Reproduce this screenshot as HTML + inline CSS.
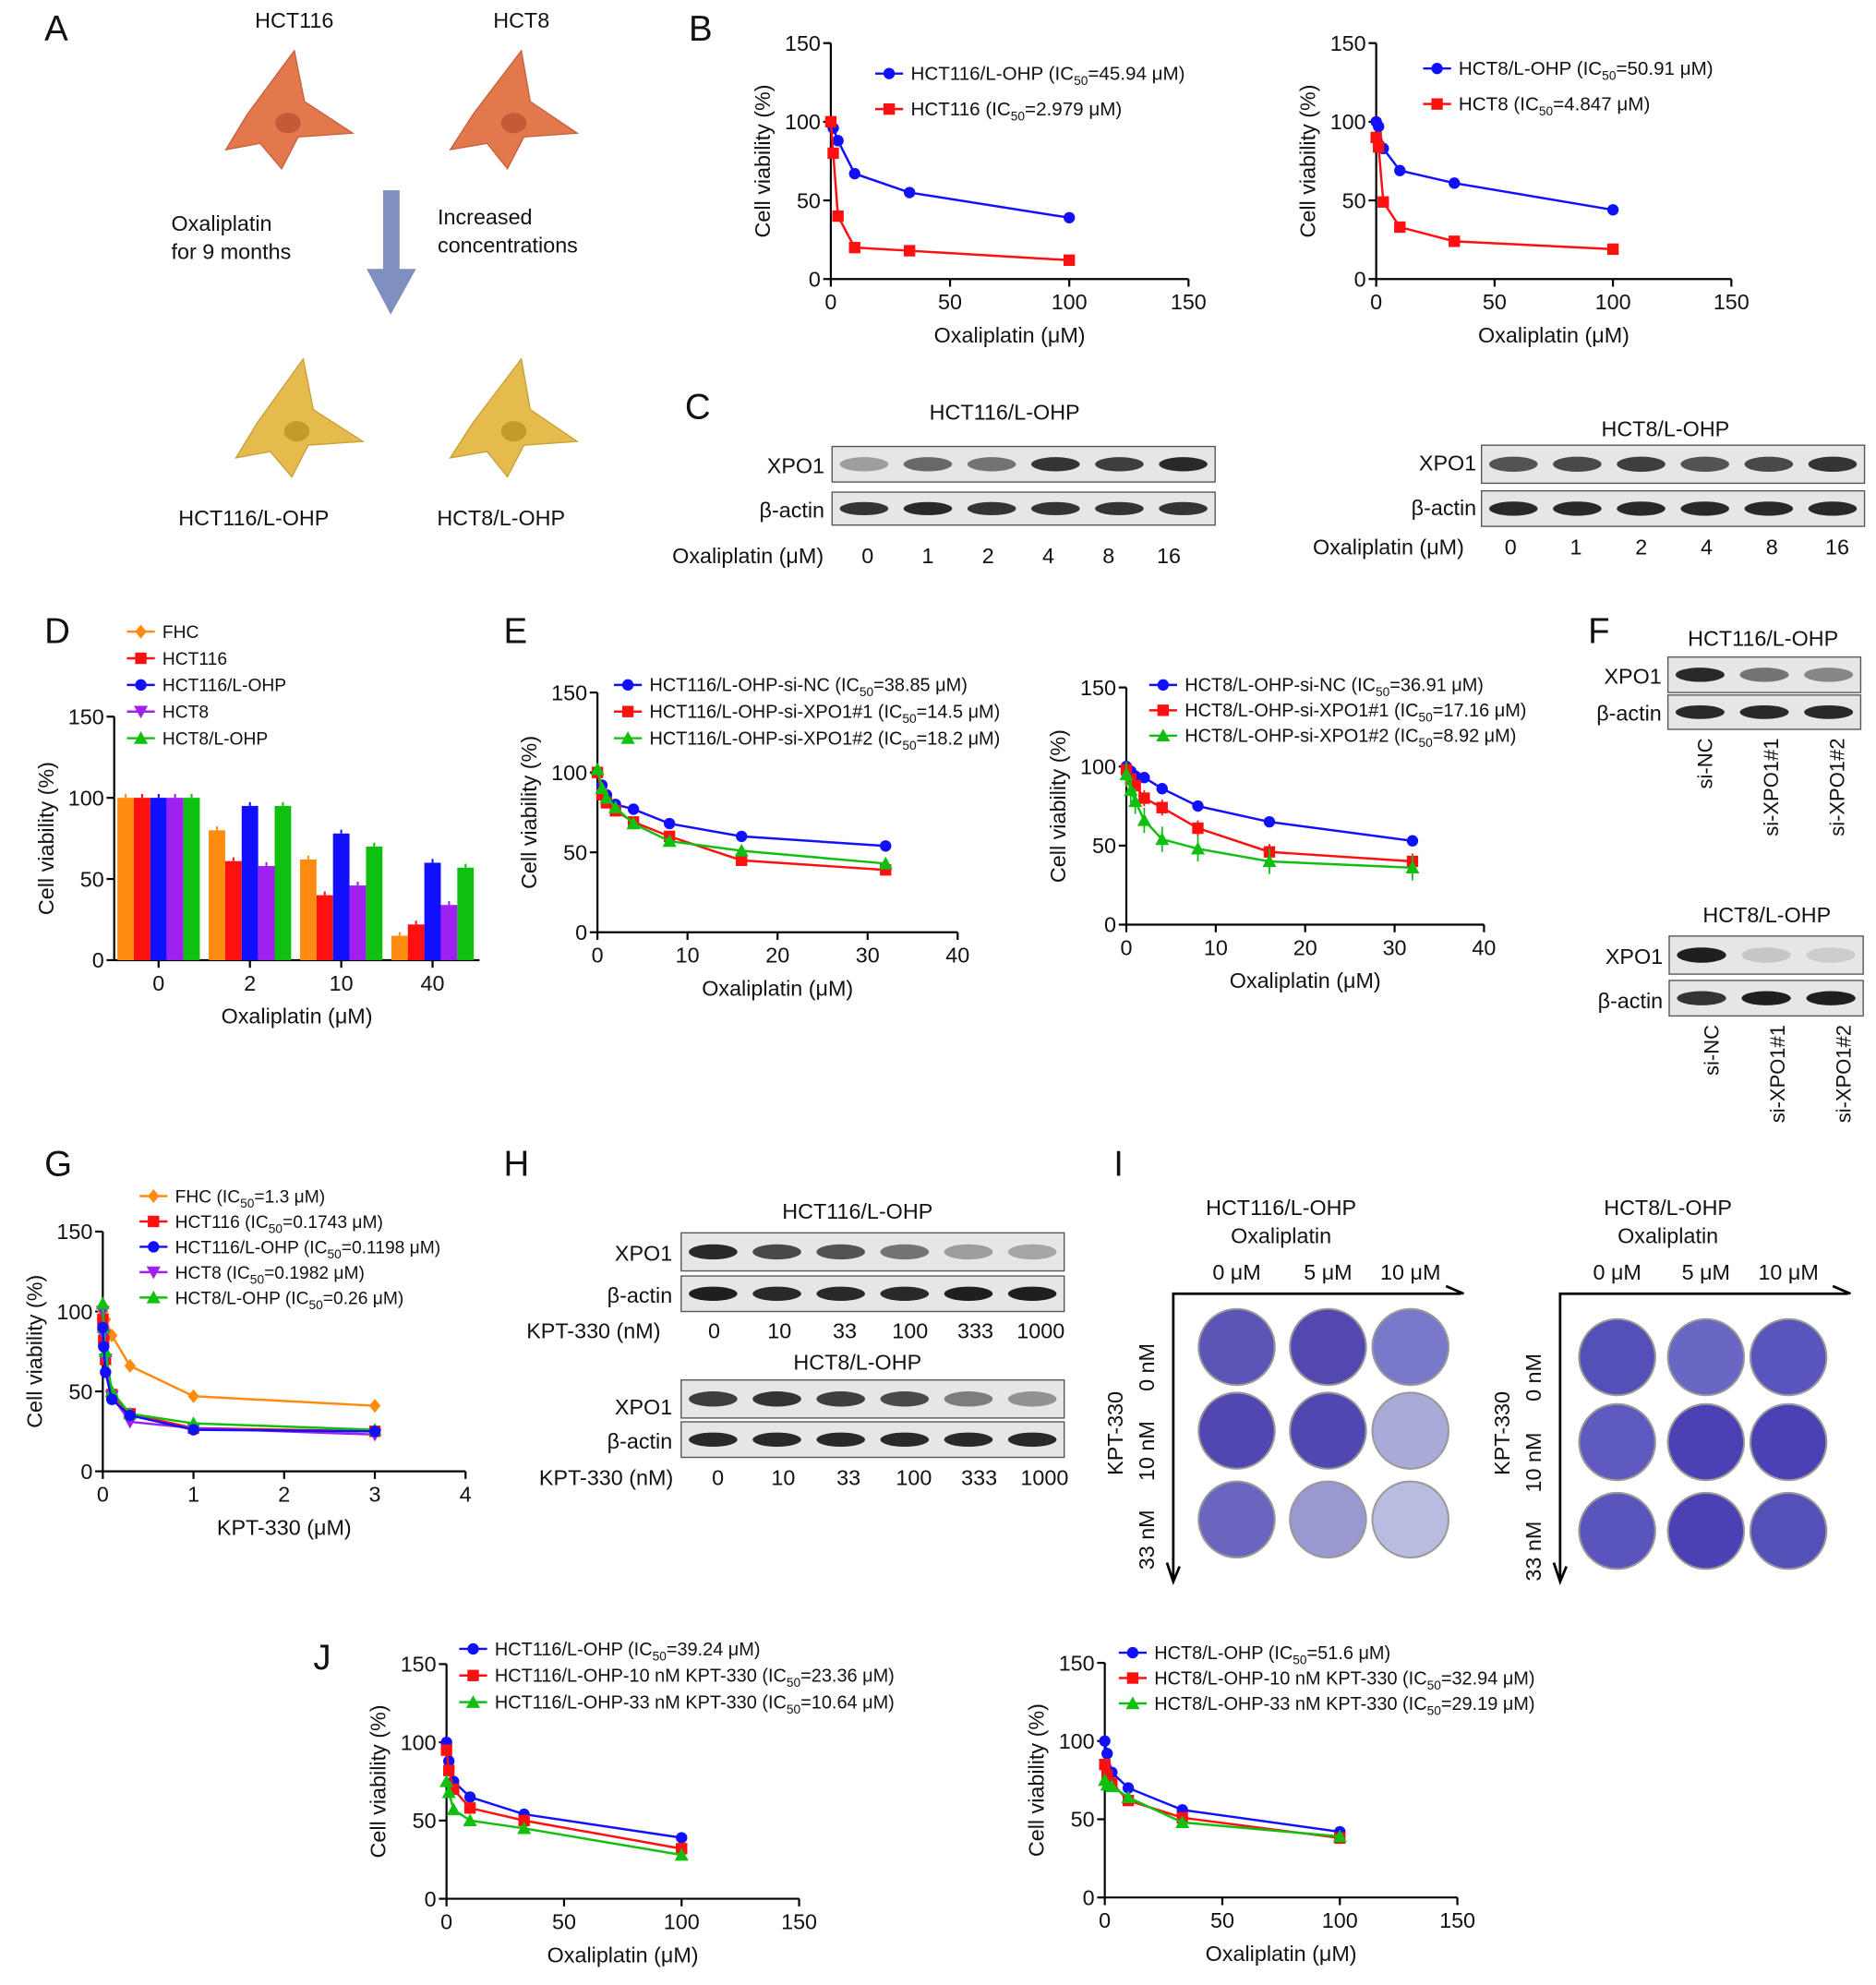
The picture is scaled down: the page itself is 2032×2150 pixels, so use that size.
<!DOCTYPE html>
<html><head><meta charset="utf-8"><style>
html,body{margin:0;padding:0;background:#fff}
svg{display:block}
text{font-family:"Liberation Sans",Arial,sans-serif;fill:#111}
</style></head><body>
<svg id="fig" xmlns="http://www.w3.org/2000/svg" width="2032" height="2150" viewBox="0 0 1479 1565">
<g id="static">
<!-- Panel letters -->
<text x="35" y="32" font-size="28">A</text>
<text x="543" y="32" font-size="28">B</text>
<text x="540" y="330" font-size="28">C</text>
<text x="35" y="507" font-size="28">D</text>
<text x="397" y="507" font-size="28">E</text>
<text x="1252" y="507" font-size="28">F</text>
<text x="35" y="927" font-size="28">G</text>
<text x="397" y="927" font-size="28">H</text>
<text x="878" y="927" font-size="28">I</text>
<text x="247" y="1316" font-size="28">J</text>
<!-- Panel A -->
<g font-size="17">
<text x="232" y="22" text-anchor="middle">HCT116</text>
<text x="411" y="22" text-anchor="middle">HCT8</text>
<path d="M232,40 L240,80 L278,105 L235,108 L222,133 L205,113 L178,118 L195,90 Z" fill="#e2784c" stroke="#c86040"/>
<ellipse cx="227" cy="97" rx="10" ry="8" fill="#c45a36"/>
<path d="M411,40 L418,80 L455,105 L413,108 L400,133 L384,113 L355,118 L373,90 Z" fill="#e2784c" stroke="#c86040"/>
<ellipse cx="405" cy="97" rx="10" ry="8" fill="#c45a36"/>
<text x="135" y="182">Oxaliplatin</text><text x="135" y="204">for 9 months</text>
<text x="345" y="177">Increased</text><text x="345" y="199">concentrations</text>
<rect x="302" y="150" width="13" height="65" fill="#7f8fbf"/>
<polygon points="289,212 328,212 308,248" fill="#7f8fbf"/>
<path d="M239,283 L247,323 L286,348 L243,351 L230,376 L213,356 L186,361 L203,333 Z" fill="#e4bb4c" stroke="#c9a038"/>
<ellipse cx="234" cy="340" rx="10" ry="8" fill="#c49a2a"/>
<path d="M411,283 L418,323 L455,348 L413,351 L400,376 L384,356 L355,361 L373,333 Z" fill="#e4bb4c" stroke="#c9a038"/>
<ellipse cx="405" cy="340" rx="10" ry="8" fill="#c49a2a"/>
<text x="200" y="414" text-anchor="middle">HCT116/L-OHP</text>
<text x="395" y="414" text-anchor="middle">HCT8/L-OHP</text>
</g>
</g>
<g id="dyn"></g>
</svg>
<script>
// ===== Data =====
const bX = [0, 1, 3, 10, 33, 100];
const bLeftBlue = [100, 96, 88, 67, 55, 39];
const bLeftRed = [100, 80, 40, 20, 18, 12];
const bRightBlue = [100, 97, 83, 69, 61, 44];
const bRightRed = [90, 84, 49, 33, 24, 19];
const dGroups = ["0", "2", "10", "40"];
const dFHC = [100, 80, 62, 15];
const dHCT116 = [100, 61, 40, 22];
const dHCT116L = [100, 95, 78, 60];
const dHCT8 = [100, 58, 46, 34];
const dHCT8L = [100, 95, 70, 57];
const eX = [0, 0.5, 1, 2, 4, 8, 16, 32];
const eLeftBlue = [100, 92, 86, 80, 77, 68, 60, 54];
const eLeftRed = [100, 86, 81, 76, 69, 60, 45, 39];
const eLeftGreen = [102, 90, 84, 78, 68, 57, 51, 43];
const eRightBlue = [100, 97, 94, 93, 86, 75, 65, 53];
const eRightRed = [98, 92, 88, 80, 74, 61, 46, 40];
const eRightGreen = [95, 85, 78, 66, 54, 48, 40, 36];
const gX = [0, 0.01, 0.03, 0.1, 0.3, 1, 3];
const gFHC = [100, 98, 95, 85, 66, 47, 41];
const gHCT116 = [95, 82, 70, 48, 36, 27, 25];
const gHCT116L = [90, 78, 62, 45, 35, 26, 25];
const gHCT8 = [100, 85, 70, 47, 31, 27, 23];
const gHCT8L = [105, 90, 75, 50, 36, 30, 26];
const jX = [0, 1, 3, 10, 33, 100];
const jLeftBlue = [100, 88, 75, 65, 54, 39];
const jLeftRed = [95, 82, 70, 58, 50, 32];
const jLeftGreen = [75, 68, 57, 50, 45, 28];
const jRightBlue = [100, 92, 80, 70, 56, 42];
const jRightRed = [85, 78, 73, 62, 51, 38];
const jRightGreen = [75, 72, 71, 64, 48, 39];
const yTicks150 = [0, 50, 100, 150];

const NS = "http://www.w3.org/2000/svg";
const root = document.getElementById("dyn");
function el(tag, attrs, parent, txt) {
  const e = document.createElementNS(NS, tag);
  for (const k in attrs) e.setAttribute(k, attrs[k]);
  if (txt !== undefined) e.textContent = txt;
  (parent || root).appendChild(e);
  return e;
}
const COL = {blue:"#1010ff", red:"#ff1010", green:"#10c010", orange:"#ff8c10", purple:"#a020f0"};
function marker(g, shape, cx, cy, c, s) {
  s = s || 4.5;
  let m;
  if (shape === "circle") m = el("circle", {cx, cy, r: s, fill: c}, g);
  else if (shape === "square") m = el("rect", {x: cx - s, y: cy - s, width: 2 * s, height: 2 * s, fill: c}, g);
  else if (shape === "tri") m = el("polygon", {points: `${cx},${cy - s - 1} ${cx + s + 1},${cy + s} ${cx - s - 1},${cy + s}`, fill: c}, g);
  else if (shape === "tridown") m = el("polygon", {points: `${cx},${cy + s + 1} ${cx + s + 1},${cy - s} ${cx - s - 1},${cy - s}`, fill: c}, g);
  else m = el("polygon", {points: `${cx},${cy - s - 1} ${cx + s},${cy} ${cx},${cy + s + 1} ${cx - s},${cy}`, fill: c}, g);
  return m;
}
function axes(name, x0, x1, y0, y1, xmax, xticks, ymax, yticks, xtitle, ytitle) {
  const g = el("g", {}); 
  
  
  const sx = v => x0 + (v / xmax) * (x1 - x0);
  const sy = v => y0 - (v / ymax) * (y0 - y1);
  el("line", {x1: x0, y1: y0, x2: x1, y2: y0, stroke: "#000", "stroke-width": 1.6}, g);
  el("line", {x1: x0, y1: y0, x2: x0, y2: y1, stroke: "#000", "stroke-width": 1.6}, g);
  if (xticks) xticks.forEach(t => {
    el("line", {x1: sx(t), y1: y0, x2: sx(t), y2: y0 + 6, stroke: "#000", "stroke-width": 1.6}, g);
    el("text", {x: sx(t), y: y0 + 24, "font-size": 17, "text-anchor": "middle"}, g, t);
  });
  yticks.forEach(t => {
    el("line", {x1: x0 - 6, y1: sy(t), x2: x0, y2: sy(t), stroke: "#000", "stroke-width": 1.6}, g);
    el("text", {x: x0 - 8, y: sy(t) + 6, "font-size": 17, "text-anchor": "end"}, g, t);
  });
  if (xtitle) el("text", {x: (x0 + x1) / 2, y: y0 + 50, "font-size": 17, "text-anchor": "middle"}, g, xtitle);
  const yt = el("text", {x: 0, y: 0, "font-size": 17, "text-anchor": "middle", transform: `translate(${x0 - 48},${(y0 + y1) / 2}) rotate(-90)`}, g, ytitle);
  return {sx, sy};
}
function series(name, ax, xs, ys, color, shape, err) {
  const g = el("g", {});
  
  
  const pts = xs.map((x, i) => `${ax.sx(x)},${ax.sy(ys[i])}`).join(" ");
  el("polyline", {points: pts, fill: "none", stroke: color, "stroke-width": 1.8}, g);
  xs.forEach((x, i) => {
    if (err) el("line", {x1: ax.sx(x), y1: ax.sy(ys[i] + err), x2: ax.sx(x), y2: ax.sy(ys[i] - err), stroke: color, "stroke-width": 1.3}, g);
    const m = marker(g, shape, ax.sx(x), ax.sy(ys[i]), color);
    
    
  });
}
function legend(name, x, y, dy, items, fs) {
  const g = el("g", {});
  
  
  items.forEach((it, i) => {
    const yy = y + i * dy;
    el("line", {x1: x, y1: yy, x2: x + 22, y2: yy, stroke: it[1], "stroke-width": 1.8}, g);
    marker(g, it[2], x + 11, yy, it[1]);
    const t = el("text", {x: x + 28, y: yy + 5, "font-size": fs || 15}, g);
    const parts = it[0].split("IC50");
    t.appendChild(document.createTextNode(parts[0]));
    if (parts.length > 1) {
      t.appendChild(document.createTextNode("IC"));
      const s = el("tspan", {"font-size": 10, dy: 4}, t, "50"); 
      const r = el("tspan", {dy: -4}, t, parts[1]);
    }
  });
}
// ===== Panel B =====
let ax = axes("b-left", 655, 937, 220, 34, 150, [0, 50, 100, 150], 150, yTicks150, "Oxaliplatin (μM)", "Cell viability (%)");
series("b-left-hct116-lohp", ax, bX, bLeftBlue, COL.blue, "circle");
series("b-left-hct116", ax, bX, bLeftRed, COL.red, "square");
legend("b-left-legend", 690, 58, 28, [["HCT116/L-OHP (IC50=45.94 μM)", COL.blue, "circle"], ["HCT116 (IC50=2.979 μM)", COL.red, "square"]]);
ax = axes("b-right", 1085, 1365, 220, 34, 150, [0, 50, 100, 150], 150, yTicks150, "Oxaliplatin (μM)", "Cell viability (%)");
series("b-right-hct8-lohp", ax, bX, bRightBlue, COL.blue, "circle");
series("b-right-hct8", ax, bX, bRightRed, COL.red, "square");
legend("b-right-legend", 1122, 54, 28, [["HCT8/L-OHP (IC50=50.91 μM)", COL.blue, "circle"], ["HCT8 (IC50=4.847 μM)", COL.red, "square"]]);
// ===== Panel D bars =====
(function () {
  ax = axes("d-bar", 90, 378, 757, 565, 1, null, 150, yTicks150, "Oxaliplatin (μM)", "Cell viability (%)");
  const sers = [dFHC, dHCT116, dHCT116L, dHCT8, dHCT8L];
  const cols = [COL.orange, COL.red, COL.blue, COL.purple, COL.green];
  const gw = 72, bw = 13;
  dGroups.forEach((lab, gi) => {
    const cx = 125 + gi * gw;
    el("line", {x1: cx, y1: 757, x2: cx, y2: 763, stroke: "#000", "stroke-width": 1.6});
    el("text", {x: cx, y: 781, "font-size": 17, "text-anchor": "middle"}, root, lab);
    sers.forEach((s, si) => {
      const x = cx - 2.5 * bw + si * bw;
      const r = el("rect", {x, y: ax.sy(s[gi]), width: bw, height: 757 - ax.sy(s[gi]), fill: cols[si]});
      
      
      el("line", {x1: x + bw / 2, y1: ax.sy(s[gi]) - 3, x2: x + bw / 2, y2: ax.sy(s[gi]), stroke: cols[si], "stroke-width": 1.5});
    });
  });
  legend("d-legend", 100, 498, 21, [["FHC", COL.orange, "diamond"], ["HCT116", COL.red, "square"], ["HCT116/L-OHP", COL.blue, "circle"], ["HCT8", COL.purple, "tridown"], ["HCT8/L-OHP", COL.green, "tri"]], 14);
})();
// ===== Panel E =====
ax = axes("e-left", 471, 755, 735, 546, 40, [0, 10, 20, 30, 40], 150, yTicks150, "Oxaliplatin (μM)", "Cell viability (%)");
series("e-left-si-nc", ax, eX, eLeftBlue, COL.blue, "circle");
series("e-left-si-xpo1-1", ax, eX, eLeftRed, COL.red, "square");
series("e-left-si-xpo1-2", ax, eX, eLeftGreen, COL.green, "tri");
legend("e-left-legend", 484, 540, 21, [["HCT116/L-OHP-si-NC (IC50=38.85 μM)", COL.blue, "circle"], ["HCT116/L-OHP-si-XPO1#1 (IC50=14.5 μM)", COL.red, "square"], ["HCT116/L-OHP-si-XPO1#2 (IC50=18.2 μM)", COL.green, "tri"]], 14.5);
ax = axes("e-right", 888, 1170, 729, 542, 40, [0, 10, 20, 30, 40], 150, yTicks150, "Oxaliplatin (μM)", "Cell viability (%)");
series("e-right-si-nc", ax, eX, eRightBlue, COL.blue, "circle", 3);
series("e-right-si-xpo1-1", ax, eX, eRightRed, COL.red, "square", 5);
series("e-right-si-xpo1-2", ax, eX, eRightGreen, COL.green, "tri", 8);
legend("e-right-legend", 906, 540, 20, [["HCT8/L-OHP-si-NC (IC50=36.91 μM)", COL.blue, "circle"], ["HCT8/L-OHP-si-XPO1#1 (IC50=17.16 μM)", COL.red, "square"], ["HCT8/L-OHP-si-XPO1#2 (IC50=8.92 μM)", COL.green, "tri"]], 14.5);
// ===== Panel G =====
ax = axes("g", 81, 367, 1160, 971, 4, [0, 1, 2, 3, 4], 150, yTicks150, "KPT-330 (μM)", "Cell viability (%)");
series("g-fhc", ax, gX, gFHC, COL.orange, "diamond");
series("g-hct116", ax, gX, gHCT116, COL.red, "square");
series("g-hct8", ax, gX, gHCT8, COL.purple, "tridown");
series("g-hct8-lohp", ax, gX, gHCT8L, COL.green, "tri");
series("g-hct116-lohp", ax, gX, gHCT116L, COL.blue, "circle");
legend("g-legend", 110, 943, 20, [["FHC (IC50=1.3 μM)", COL.orange, "diamond"], ["HCT116 (IC50=0.1743 μM)", COL.red, "square"], ["HCT116/L-OHP (IC50=0.1198 μM)", COL.blue, "circle"], ["HCT8 (IC50=0.1982 μM)", COL.purple, "tridown"], ["HCT8/L-OHP (IC50=0.26 μM)", COL.green, "tri"]], 14);
// ===== Panel J =====
ax = axes("j-left", 352, 630, 1497, 1312, 150, [0, 50, 100, 150], 150, yTicks150, "Oxaliplatin (μM)", "Cell viability (%)");
series("j-left-hct116-lohp", ax, jX, jLeftBlue, COL.blue, "circle");
series("j-left-10nm", ax, jX, jLeftRed, COL.red, "square");
series("j-left-33nm", ax, jX, jLeftGreen, COL.green, "tri");
legend("j-left-legend", 362, 1300, 21, [["HCT116/L-OHP (IC50=39.24 μM)", COL.blue, "circle"], ["HCT116/L-OHP-10 nM KPT-330 (IC50=23.36 μM)", COL.red, "square"], ["HCT116/L-OHP-33 nM KPT-330 (IC50=10.64 μM)", COL.green, "tri"]], 14.5);
ax = axes("j-right", 871, 1149, 1496, 1311, 150, [0, 50, 100, 150], 150, yTicks150, "Oxaliplatin (μM)", "Cell viability (%)");
series("j-right-hct8-lohp", ax, jX, jRightBlue, COL.blue, "circle", 3);
series("j-right-10nm", ax, jX, jRightRed, COL.red, "square", 3);
series("j-right-33nm", ax, jX, jRightGreen, COL.green, "tri", 3);
legend("j-right-legend", 882, 1303, 20, [["HCT8/L-OHP (IC50=51.6 μM)", COL.blue, "circle"], ["HCT8/L-OHP-10 nM KPT-330 (IC50=32.94 μM)", COL.red, "square"], ["HCT8/L-OHP-33 nM KPT-330 (IC50=29.19 μM)", COL.green, "tri"]], 14.5);
// ===== Western blots =====
function blot(name, x, y, w, h, n, dark) {
  const g = el("g", {});
  
  
  el("rect", {x, y, width: w, height: h, fill: "#e6e6e6", stroke: "#555", "stroke-width": 1}, g);
  const step = w / n;
  for (let i = 0; i < n; i++) {
    const d = dark[i];
    el("ellipse", {cx: x + step * (i + 0.5), cy: y + h / 2, rx: step * 0.38, ry: h * 0.2, fill: `rgba(20,20,20,${d})`}, g);
  }
}
function txt(x, y, s, fs, anchor, name, rot) {
  const t = el("text", {x, y, "font-size": fs, "text-anchor": anchor || "start"}, root, s);
  if (rot) t.setAttribute("transform", `rotate(-90 ${x} ${y})`);
  
  
}
// C
txt(792, 331, "HCT116/L-OHP", 17, "middle", "c-left-title");
blot("c-left-xpo1", 656, 352, 302, 28, 6, [0.35, 0.6, 0.55, 0.85, 0.8, 0.9]);
blot("c-left-actin", 656, 388, 302, 26, 6, [0.85, 0.9, 0.85, 0.85, 0.85, 0.85]);
txt(650, 373, "XPO1", 17, "end", "c-left-xpo1-label");
txt(650, 408, "β-actin", 17, "end", "c-left-actin-label");
txt(530, 444, "Oxaliplatin (μM)", 17, "start", "c-left-x-label");
["0", "1", "2", "4", "8", "16"].forEach((s, i) => txt(684 + i * 47.5, 444, s, 17, "middle", "c-left-conc"));
txt(1313, 344, "HCT8/L-OHP", 17, "middle", "c-right-title");
blot("c-right-xpo1", 1168, 351, 302, 30, 6, [0.7, 0.75, 0.8, 0.7, 0.75, 0.85]);
blot("c-right-actin", 1168, 387, 302, 28, 6, [0.9, 0.9, 0.9, 0.9, 0.9, 0.9]);
txt(1164, 371, "XPO1", 17, "end", "c-right-xpo1-label");
txt(1164, 406, "β-actin", 17, "end", "c-right-actin-label");
txt(1035, 437, "Oxaliplatin (μM)", 17, "start", "c-right-x-label");
["0", "1", "2", "4", "8", "16"].forEach((s, i) => txt(1191 + i * 51.5, 437, s, 17, "middle", "c-right-conc"));
// F
txt(1390, 509, "HCT116/L-OHP", 17, "middle", "f-top-title");
blot("f-top-xpo1", 1315, 518, 152, 28, 3, [0.9, 0.55, 0.45]);
blot("f-top-actin", 1315, 548, 152, 27, 3, [0.9, 0.9, 0.9]);
txt(1310, 539, "XPO1", 17, "end", "f-top-xpo1-label");
txt(1310, 568, "β-actin", 17, "end", "f-top-actin-label");
["si-NC", "si-XPO1#1", "si-XPO1#2"].forEach((s, i) => txt(1350 + i * 52, 582, s, 16, "end", "f-top-lane", true));
txt(1393, 727, "HCT8/L-OHP", 17, "middle", "f-bot-title");
blot("f-bot-xpo1", 1316, 738, 153, 30, 3, [0.95, 0.15, 0.12]);
blot("f-bot-actin", 1316, 773, 153, 28, 3, [0.85, 0.95, 0.95]);
txt(1311, 760, "XPO1", 17, "end", "f-bot-xpo1-label");
txt(1311, 795, "β-actin", 17, "end", "f-bot-actin-label");
["si-NC", "si-XPO1#1", "si-XPO1#2"].forEach((s, i) => txt(1355 + i * 52, 808, s, 16, "end", "f-bot-lane", true));
// H
txt(676, 961, "HCT116/L-OHP", 17, "middle", "h-top-title");
blot("h-top-xpo1", 537, 972, 302, 30, 6, [0.9, 0.75, 0.7, 0.55, 0.35, 0.3]);
blot("h-top-actin", 537, 1006, 302, 28, 6, [0.95, 0.9, 0.9, 0.9, 0.95, 0.95]);
txt(530, 994, "XPO1", 17, "end", "h-top-xpo1-label");
txt(530, 1027, "β-actin", 17, "end", "h-top-actin-label");
txt(415, 1055, "KPT-330 (nM)", 17, "start", "h-top-x-label");
["0", "10", "33", "100", "333", "1000"].forEach((s, i) => txt(563 + i * 51.5, 1055, s, 17, "middle", "h-top-conc"));
txt(676, 1080, "HCT8/L-OHP", 17, "middle", "h-bot-title");
blot("h-bot-xpo1", 537, 1088, 302, 30, 6, [0.8, 0.85, 0.8, 0.75, 0.5, 0.4]);
blot("h-bot-actin", 537, 1121, 302, 28, 6, [0.9, 0.9, 0.9, 0.9, 0.9, 0.9]);
txt(530, 1115, "XPO1", 17, "end", "h-bot-xpo1-label");
txt(530, 1142, "β-actin", 17, "end", "h-bot-actin-label");
txt(425, 1171, "KPT-330 (nM)", 17, "start", "h-bot-x-label");
["0", "10", "33", "100", "333", "1000"].forEach((s, i) => txt(566 + i * 51.5, 1171, s, 17, "middle", "h-bot-conc"));
// I plates
function plates(name, cxs, cys, r, shades, title, ox, oy) {
  txt(ox + 120, 958, title, 17, "middle", name + "-title");
  txt(ox + 120, 980, "Oxaliplatin", 17, "middle", name + "-subtitle");
  ["0 μM", "5 μM", "10 μM"].forEach((s, i) => txt(cxs[i], 1009, s, 17, "middle", name + "-col-label"));
  ["0 nM", "10 nM", "33 nM"].forEach((s, i) => txt(ox + 20, cys[i] + 16, s, 17, "middle", name + "-row-label", true));
  txt(ox - 5, 1130, "KPT-330", 17, "middle", name + "-y-title", true);
  el("polyline", {points: `${ox + 35},1245 ${ox + 35},1020 ${ox + 262},1020`, fill: "none", stroke: "#000", "stroke-width": 2});
  el("polyline", {points: `${ox + 30},1232 ${ox + 35},1247 ${ox + 40},1235`, fill: "none", stroke: "#000", "stroke-width": 2});
  el("polyline", {points: `${ox + 250},1014 ${ox + 264},1020`, fill: "none", stroke: "#000", "stroke-width": 2});
  cys.forEach((cy, ri) => cxs.forEach((cx, ci) => {
    const c = el("circle", {cx, cy, r, fill: shades[ri][ci], stroke: "#999", "stroke-width": 1.5});
    
    
  }));
}
plates("i-left", [975, 1047, 1112], [1062, 1128, 1198], 30,
  [["#5b55b8", "#5348b0", "#7a78c8"], ["#5048b0", "#5048b0", "#a8aad8"], ["#6a66c0", "#9a98d0", "#b8bce0"]], "HCT116/L-OHP", 890, 0);
plates("i-right", [1275, 1345, 1410], [1070, 1137, 1207], 30,
  [["#5550b8", "#6a66c4", "#5a55bc"], ["#5f5ac0", "#4a42b4", "#4a42b4"], ["#5a55bc", "#4a42b4", "#5550b8"]], "HCT8/L-OHP", 1195, 0);
</script>
</body></html>
